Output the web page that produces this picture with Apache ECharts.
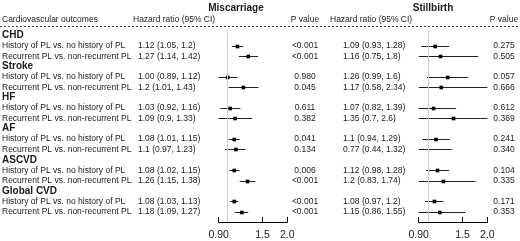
<!DOCTYPE html>
<html lang="en">
<head>
<meta charset="UTF-8">
<title>Pregnancy loss and CVD</title>
<script src="https://cdn.jsdelivr.net/npm/echarts@6/dist/echarts.min.js"></script>
<style>
  html, body { margin: 0; padding: 0; background: #fff; }
  #main { width: 520px; height: 241px; }
</style>
</head>
<body>
<div id="main"></div>
<script>
// outcomes and comparisons
var groups = ['CHD', 'Stroke', 'HF', 'AF', 'ASCVD', 'Global CVD'];
var comparisons = ['History of PL vs. no history of PL', 'Recurrent PL vs. non-recurrent PL'];

// miscarriage
var misEst  = [1.12, 1.27, 1.00, 1.2, 1.03, 1.09, 1.08, 1.1, 1.08, 1.26, 1.08, 1.18];
var misLow  = [1.05, 1.14, 0.89, 1.01, 0.92, 0.9, 1.01, 0.97, 1.02, 1.15, 1.03, 1.09];
var misHigh = [1.2, 1.42, 1.12, 1.43, 1.16, 1.33, 1.15, 1.23, 1.15, 1.38, 1.13, 1.27];
var misText = ['1.12 (1.05, 1.2)', '1.27 (1.14, 1.42)', '1.00 (0.89, 1.12)', '1.2 (1.01, 1.43)',
  '1.03 (0.92, 1.16)', '1.09 (0.9, 1.33)', '1.08 (1.01, 1.15)', '1.1 (0.97, 1.23)',
  '1.08 (1.02, 1.15)', '1.26 (1.15, 1.38)', '1.08 (1.03, 1.13)', '1.18 (1.09, 1.27)'];
var misP = ['<0.001', '<0.001', '0.980', '0.045', '0.611', '0.382', '0.041', '0.134', '0.006', '<0.001', '<0.001', '<0.001'];

// stillbirth
var stEst  = [1.09, 1.16, 1.26, 1.17, 1.07, 1.35, 1.1, 0.77, 1.12, 1.2, 1.08, 1.15];
var stLow  = [0.93, 0.75, 0.99, 0.58, 0.82, 0.7, 0.94, 0.44, 0.98, 0.83, 0.97, 0.86];
var stHigh = [1.28, 1.8, 1.6, 2.34, 1.39, 2.6, 1.29, 1.32, 1.28, 1.74, 1.2, 1.55];
var stText = ['1.09 (0.93, 1.28)', '1.16 (0.75, 1.8)', '1.26 (0.99, 1.6)', '1.17 (0.58, 2.34)',
  '1.07 (0.82, 1.39)', '1.35 (0.7, 2.6)', '1.1 (0.94, 1.29)', '0.77 (0.44, 1.32)',
  '1.12 (0.98, 1.28)', '1.2 (0.83, 1.74)', '1.08 (0.97, 1.2)', '1.15 (0.86, 1.55)'];
var stP = ['0.275', '0.505', '0.057', '0.666', '0.612', '0.369', '0.241', '0.340', '0.104', '0.335', '0.171', '0.353'];

// axis
var tickValues = [0.9, 1, 1.5, 2];
var labelValues = [0.9, 1.5, 2];
var tickLabels = ['0.90', '1.5', '2.0'];

var FONT = '"Liberation Sans", Arial, sans-serif';
var TXT = '#1a1a1a';
var BODY = 8.5;

// table rows: a bold group row followed by its two comparisons
var rows = [];
groups.forEach(function (g, gi) {
  rows.push({ group: g });
  comparisons.forEach(function (c, ci) {
    rows.push({ label: c, k: gi * 2 + ci });
  });
});
function rowOf(k) { return Math.floor(k / 2) * 3 + 1 + (k % 2); }

function forestData(est, low, high) {
  return est.map(function (e, k) {
    return [rowOf(k), Math.log(e), Math.log(low[k]), Math.log(high[k])];
  });
}

function renderForest(params, api) {
  var cs = params.coordSys;
  var row = api.value(0);
  var y = Math.round(api.coord([0, row])[1]) + 0.5;
  var xl = api.coord([api.value(2), row])[0];
  var xh = api.coord([api.value(3), row])[0];
  var xe = api.coord([api.value(1), row])[0];
  var x1 = Math.max(xl, cs.x), x2 = Math.min(xh, cs.x + cs.width);
  var kids = [{
    type: 'line',
    shape: { x1: x1, y1: y, x2: x2, y2: y },
    style: { stroke: '#222', lineWidth: 1 }
  }];
  if (xe >= cs.x && xe <= cs.x + cs.width) {
    kids.push({
      type: 'rect',
      shape: { x: xe - 1.8, y: y - 1.8, width: 3.6, height: 3.6 },
      style: { fill: '#000' }
    });
  }
  return { type: 'group', children: kids };
}

function renderTable(params, api) {
  var r = rows[params.dataIndex];
  var y = api.coord([0, params.dataIndex])[1];
  var t = function (text, x, align, bold, size) {
    return {
      type: 'text',
      style: {
        text: text, x: x, y: y, fill: TXT,
        font: (bold ? 'bold ' : '') + size + 'px ' + FONT,
        textAlign: align, textVerticalAlign: 'middle'
      }
    };
  };
  if (r.group) return { type: 'group', children: [t(r.group, 2, 'left', true, 10)] };
  return {
    type: 'group',
    children: [
      t(r.label, 2, 'left', false, BODY),
      t(misText[r.k], 138, 'left', false, BODY),
      t(misP[r.k], 305, 'center', false, BODY),
      t(stText[r.k], 343, 'left', false, BODY),
      t(stP[r.k], 504, 'center', false, BODY)
    ]
  };
}

function xAxisFor(gi) {
  return {
    gridIndex: gi,
    type: 'value',
    position: 'bottom',
    min: Math.log(0.9),
    max: Math.log(2),
    axisLine: { onZero: false, lineStyle: { color: '#000', width: 1 } },
    axisTick: { inside: true, length: 5, lineStyle: { color: '#000' },
      customValues: tickValues.map(function (v) { return Math.log(v); }) },
    axisLabel: {
      customValues: labelValues.map(function (v) { return Math.log(v); }),
      formatter: function (v) {
        var i = labelValues.findIndex(function (l) { return Math.abs(Math.log(l) - v) < 1e-6; });
        return i >= 0 ? tickLabels[i] : '';
      },
      color: TXT, fontFamily: FONT, fontSize: 10.5, margin: 8
    },
    splitLine: { show: false }
  };
}
function yAxisFor(gi) {
  return { gridIndex: gi, type: 'value', inverse: true, min: -0.5, max: 18, show: false };
}

var refLine = {
  silent: true, symbol: 'none', label: { show: false },
  lineStyle: { color: '#cfcfcf', width: 1, type: 'solid' },
  data: [{ xAxis: 0 }]
};

var headerY = 20;
function headText(text, x, align, bold, size) {
  return {
    type: 'text', x: x, y: headerY,
    style: { text: text, fill: TXT, font: (bold ? 'bold ' : '') + size + 'px ' + FONT,
      textAlign: align, textVerticalAlign: 'middle' }
  };
}

var chart = echarts.init(document.getElementById('main'), null, { renderer: 'canvas' });
chart.setOption({
  animation: false,
  grid: [
    { left: 218.6, width: 68.7, top: 30.3, height: 192.4 },
    { left: 418.7, width: 68.7, top: 30.3, height: 192.4 }
  ],
  xAxis: [xAxisFor(0), xAxisFor(1)],
  yAxis: [yAxisFor(0), yAxisFor(1)],
  graphic: [
    { type: 'text', x: 236, y: 8, style: { text: 'Miscarriage', fill: TXT, font: 'bold 10px ' + FONT, textAlign: 'center', textVerticalAlign: 'middle' } },
    { type: 'text', x: 433, y: 8, style: { text: 'Stillbirth', fill: TXT, font: 'bold 10px ' + FONT, textAlign: 'center', textVerticalAlign: 'middle' } },
    headText('Cardiovascular outcomes', 2, 'left', false, BODY),
    headText('Hazard ratio (95% CI)', 133, 'left', false, BODY),
    headText('P value', 305, 'center', false, BODY),
    headText('Hazard ratio (95% CI)', 330, 'left', false, BODY),
    headText('P value', 504, 'center', false, BODY),
    { type: 'line', shape: { x1: 0, y1: 26.5, x2: 520, y2: 26.5 },
      style: { stroke: '#444', lineWidth: 1, lineDash: [2, 2] } }
  ],
  series: [
    {
      type: 'custom', xAxisIndex: 0, yAxisIndex: 0,
      data: forestData(misEst, misLow, misHigh),
      renderItem: renderForest, markLine: refLine, z: 3
    },
    {
      type: 'custom', xAxisIndex: 1, yAxisIndex: 1,
      data: forestData(stEst, stLow, stHigh),
      renderItem: renderForest, markLine: refLine, z: 3
    },
    {
      type: 'custom', xAxisIndex: 0, yAxisIndex: 0, clip: false, silent: true,
      data: rows.map(function (r, i) { return [0, i]; }),
      renderItem: renderTable
    }
  ]
});
</script>
</body>
</html>
